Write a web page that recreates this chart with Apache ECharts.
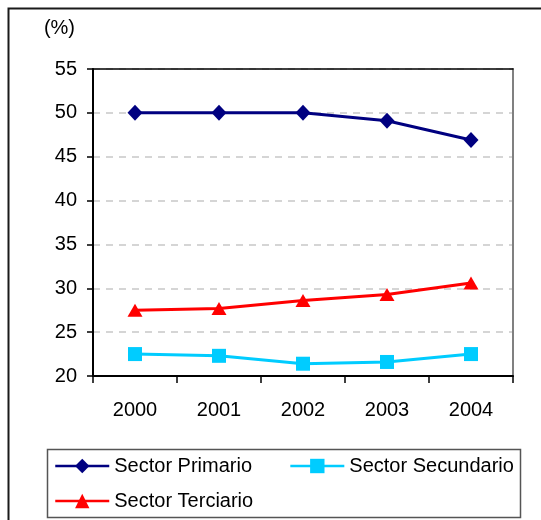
<!DOCTYPE html>
<html>
<head>
<meta charset="utf-8">
<script src="https://cdn.jsdelivr.net/npm/echarts@6/dist/echarts.min.js"></script>
<style>
  html, body { margin: 0; padding: 0; background: #fff; }
  #chart { width: 541px; height: 520px; }
</style>
</head>
<body>
<div id="chart"></div>
<script>
// Years on the category axis
const years = ['2000', '2001', '2002', '2003', '2004'];

// Share of each economic sector (%)
const primario = [50.0, 50.0, 50.0, 49.1, 46.9];
const secundario = [22.5, 22.3, 21.4, 21.6, 22.5];
const terciario = [27.5, 27.7, 28.6, 29.3, 30.6];

// Value axis range
const yMin = 20;
const yMax = 55;
const yStep = 5;

const FONT = '"Liberation Sans", Arial, sans-serif';
const TEXT = '#000';

const chart = echarts.init(document.getElementById('chart'), null, { renderer: 'canvas' });

function lineSeries(name, data, color, symbol, size) {
  return {
    name: name,
    type: 'line',
    data: data,
    symbol: symbol,
    symbolSize: size,
    showAllSymbol: true,
    lineStyle: { color: color, width: 3 },
    itemStyle: { color: color, borderWidth: 0 },
    emphasis: { disabled: true },
    animation: false,
    z: 3
  };
}

const legendText = { fontFamily: FONT, fontSize: 20, color: TEXT };
const legendBase = {
  orient: 'horizontal',
  padding: 0,
  itemWidth: 54,
  itemHeight: 18,
  itemGap: 37,
  lineStyle: { width: 2.5 },
  textStyle: legendText,
  selectedMode: false
};

chart.setOption({
  backgroundColor: '#fff',
  animation: false,
  grid: { left: 93, right: 28, top: 69, bottom: 144, containLabel: false },
  xAxis: [
    {
      type: 'category',
      data: years,
      boundaryGap: true,
      axisLine: { show: true, lineStyle: { color: '#000', width: 2 } },
      axisTick: { show: true, length: 7, lineStyle: { color: '#000', width: 1.5 } },
      axisLabel: { fontFamily: FONT, fontSize: 20, color: TEXT, margin: 24 },
      splitLine: { show: false }
    },
    {
      // top edge of the plot frame
      type: 'category',
      data: years,
      position: 'top',
      axisLine: { show: true, lineStyle: { color: '#000', width: 1.5 } },
      axisTick: { show: false },
      axisLabel: { show: false },
      splitLine: { show: false }
    }
  ],
  yAxis: [
    {
      type: 'value',
      min: yMin,
      max: yMax,
      interval: yStep,
      axisLine: { show: true, lineStyle: { color: '#000', width: 2 } },
      axisTick: { show: true, length: 6, lineStyle: { color: '#000', width: 1.5 } },
      axisLabel: { fontFamily: FONT, fontSize: 20, color: TEXT, margin: 16 },
      splitLine: { show: true, lineStyle: { color: '#c8c8c8', width: 1.5, type: [7, 6] } },
      name: '(%)',
      nameLocation: 'end',
      nameGap: 31,
      nameTextStyle: { fontFamily: FONT, fontSize: 20, color: TEXT, align: 'right', padding: [0, 18, 0, 0] }
    },
    {
      // right edge of the plot frame
      type: 'value',
      min: yMin,
      max: yMax,
      interval: yStep,
      position: 'right',
      axisLine: { show: true, lineStyle: { color: '#808080', width: 2 } },
      axisTick: { show: false },
      axisLabel: { show: false },
      splitLine: { show: false }
    }
  ],
  legend: [
    Object.assign({}, legendBase, {
      data: ['Sector Primario', 'Sector Secundario'],
      left: 54,
      top: 456
    }),
    Object.assign({}, legendBase, {
      data: ['Sector Terciario'],
      left: 54,
      top: 491
    })
  ],
  graphic: [
    {
      // outer chart frame (continues past the right and bottom edges)
      type: 'rect',
      shape: { x: 8.5, y: 8.5, width: 700, height: 700 },
      style: { fill: null, stroke: '#1a1a1a', lineWidth: 2 },
      silent: true,
      z: 0
    },
    {
      // legend box
      type: 'rect',
      shape: { x: 47.5, y: 449.5, width: 473, height: 68 },
      style: { fill: null, stroke: '#555', lineWidth: 1.5 },
      silent: true,
      z: 0
    }
  ],
  series: [
    lineSeries('Sector Primario', primario, '#000080', 'diamond', [15, 16]),
    lineSeries('Sector Secundario', secundario, '#00ccff', 'rect', 14),
    lineSeries('Sector Terciario', terciario, '#ff0000', 'triangle', [15, 13])
  ]
});
</script>
</body>
</html>
